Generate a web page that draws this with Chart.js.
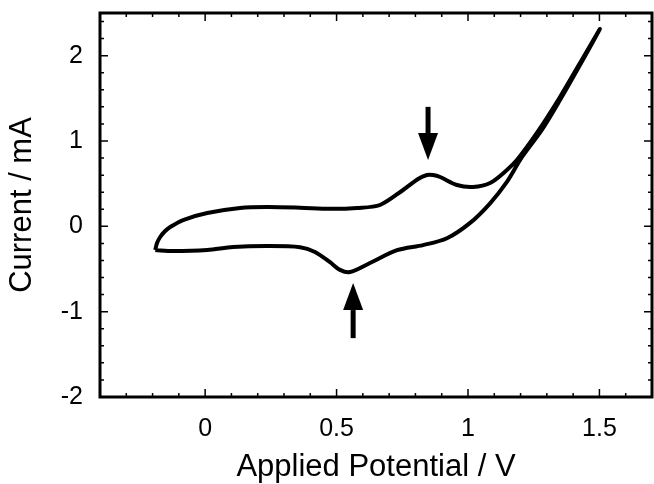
<!DOCTYPE html>
<html>
<head>
<meta charset="utf-8">
<script src="https://cdn.jsdelivr.net/npm/chart.js@4.4.1/dist/chart.umd.min.js"></script>
<style>
  html, body { margin: 0; padding: 0; background: #fff; }
  canvas { display: block; }
</style>
</head>
<body>
<canvas id="cv" width="654" height="484"></canvas>
<script>
// forward scan (upper branch), -0.2 V -> 1.5 V
const potFwd = [-0.19, -0.183, -0.171, -0.152, -0.133, -0.084, 0.008, 0.133, 0.236, 0.361, 0.475, 0.578, 0.665,
  0.753, 0.81, 0.844, 0.867, 0.894, 0.958, 1.019, 1.084, 1.148, 1.186, 1.262, 1.35, 1.426, 1.502];
const curFwd = [-0.278, -0.196, -0.125, -0.055, -0.008, 0.074, 0.156, 0.215, 0.226, 0.218, 0.205, 0.215, 0.25,
  0.426, 0.555, 0.601, 0.601, 0.578, 0.484, 0.461, 0.508, 0.66, 0.776, 1.094, 1.516, 1.914, 2.313];

// reverse scan (lower branch), 1.5 V -> -0.2 V
const potRev = [1.426, 1.35, 1.281, 1.205, 1.148, 1.084, 1.008, 0.92, 0.829, 0.73, 0.627, 0.551, 0.513,
  0.475, 0.418, 0.361, 0.236, 0.106, 0.008, -0.122, -0.19];
const curRev = [1.89, 1.48, 1.13, 0.81, 0.52, 0.27, 0.04, -0.14, -0.22, -0.28, -0.43, -0.536, -0.51,
  -0.42, -0.30, -0.244, -0.231, -0.243, -0.278, -0.29, -0.278];

// peak markers (arrows): x, start, tip
const arrowX    = [0.848, 0.563];
const arrowFrom = [1.40, -1.31];
const arrowTo   = [0.777, -0.665];

const xTicks = [0, 0.5, 1, 1.5];
const yTicks = [-2, -1, 0, 1, 2];

const loop = [];
potFwd.forEach((v, i) => loop.push({ x: v, y: curFwd[i] }));
potRev.forEach((v, i) => loop.push({ x: v, y: curRev[i] }));

const FONT = "'Liberation Sans', Arial, Helvetica, sans-serif";

function noPad(s) {
  s.paddingTop = 0; s.paddingBottom = 0; s.paddingLeft = 0; s.paddingRight = 0;
}

// frame, inward ticks on all sides, and the two arrows
const framePlugin = {
  id: 'frame',
  afterDatasetsDraw(chart) {
    const ctx = chart.ctx;
    const a = chart.chartArea;
    const xs = chart.scales.x, ys = chart.scales.y;
    ctx.save();
    ctx.strokeStyle = '#000';
    ctx.lineWidth = 1.5;
    for (let i = -4; i <= 17; i++) {
      const px = xs.getPixelForValue(i / 10);
      const len = (i % 5 === 0) ? 8 : 4;
      ctx.beginPath();
      ctx.moveTo(px, a.bottom); ctx.lineTo(px, a.bottom - len);
      ctx.moveTo(px, a.top); ctx.lineTo(px, a.top + len);
      ctx.stroke();
    }
    for (let i = -10; i <= 12; i++) {
      const py = ys.getPixelForValue(i / 5);
      const len = (i % 5 === 0) ? 8 : 4;
      ctx.beginPath();
      ctx.moveTo(a.left, py); ctx.lineTo(a.left + len, py);
      ctx.moveTo(a.right, py); ctx.lineTo(a.right - len, py);
      ctx.stroke();
    }
    ctx.lineWidth = 3;
    ctx.strokeRect(a.left, a.top, a.right - a.left, a.bottom - a.top);

    ctx.fillStyle = '#000';
    arrowX.forEach((x, i) => {
      const px = xs.getPixelForValue(x);
      const y0 = ys.getPixelForValue(arrowFrom[i]);
      const y1 = ys.getPixelForValue(arrowTo[i]);
      const dir = y1 > y0 ? 1 : -1;
      const head = 27, hw = 10, sw = 2.5;
      const yb = y1 - dir * head;
      ctx.fillRect(px - sw, Math.min(y0, yb), sw * 2, Math.abs(yb - y0));
      ctx.beginPath();
      ctx.moveTo(px - hw, yb);
      ctx.lineTo(px + hw, yb);
      ctx.lineTo(px, y1);
      ctx.closePath();
      ctx.fill();
    });
    ctx.restore();
  }
};

new Chart(document.getElementById('cv'), {
  type: 'scatter',
  data: {
    datasets: [{
      data: loop,
      showLine: true,
      borderColor: '#000',
      borderWidth: 4,
      pointRadius: 0,
      tension: 0.3,
      fill: false
    }]
  },
  options: {
    responsive: false,
    animation: false,
    layout: { padding: { top: 13, right: 2, left: 0, bottom: 0 } },
    plugins: { legend: { display: false }, tooltip: { enabled: false } },
    scales: {
      x: {
        type: 'linear',
        min: -0.4,
        max: 1.7,
        afterBuildTicks: s => { s.ticks = xTicks.map(v => ({ value: v })); },
        afterFit: s => { s.height = 87; noPad(s); },
        grid: { display: false, drawTicks: false },
        border: { display: false },
        ticks: {
          color: '#000',
          padding: 17,
          font: { family: FONT, size: 25 },
          maxRotation: 0,
          callback: v => String(v)
        },
        title: {
          display: true,
          text: 'Applied Potential / V',
          color: '#000',
          font: { family: FONT, size: 31, lineHeight: 1 },
          padding: { top: 0, bottom: 1 }
        }
      },
      y: {
        type: 'linear',
        min: -2,
        max: 2.5,
        afterBuildTicks: s => { s.ticks = yTicks.map(v => ({ value: v })); },
        afterFit: s => { s.width = 100; noPad(s); },
        grid: { display: false, drawTicks: false },
        border: { display: false },
        ticks: {
          color: '#000',
          padding: 17,
          font: { family: FONT, size: 25 },
          callback: v => String(v)
        },
        title: {
          display: true,
          text: 'Current / mA',
          color: '#000',
          font: { family: FONT, size: 31, lineHeight: 1 },
          padding: { top: 7, bottom: 0 }
        }
      }
    }
  },
  plugins: [framePlugin]
});
</script>
</body>
</html>
